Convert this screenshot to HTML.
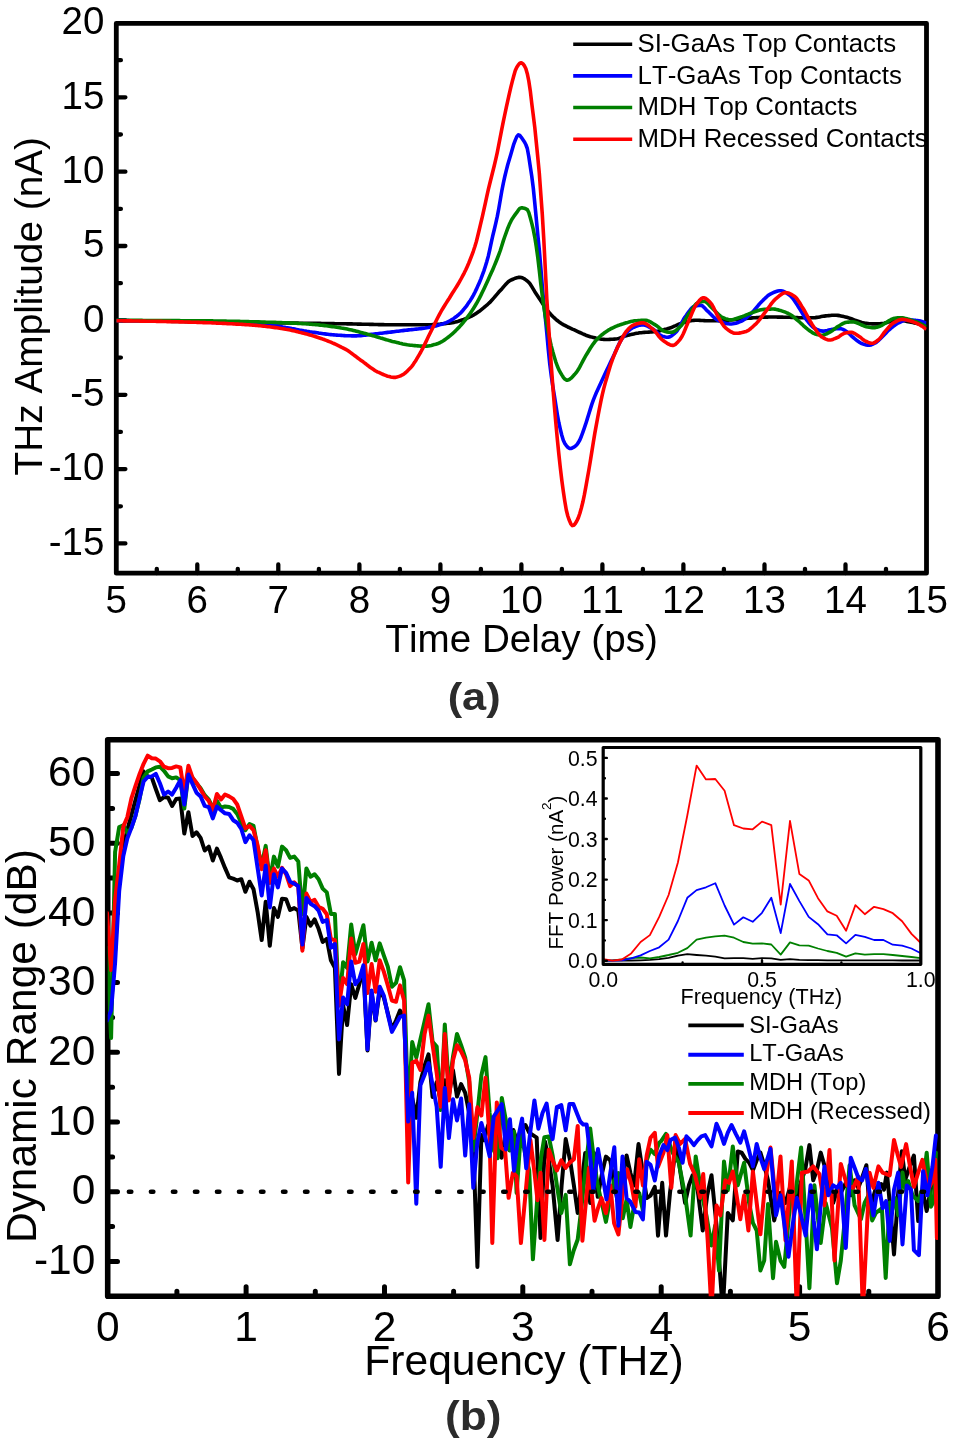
<!DOCTYPE html>
<html lang="en">
<head>
<meta charset="utf-8">
<title>THz amplitude and dynamic range</title>
<style>
html,body{margin:0;padding:0;background:#fff;}
body{width:956px;height:1444px;overflow:hidden;}
svg{display:block;font-family:'Liberation Sans', sans-serif;will-change:transform;}
text{fill:#000;font-kerning:none;}
</style>
</head>
<body>
<svg width="956" height="1444" viewBox="0 0 956 1444">
<rect width="956" height="1444" fill="#fff"/>
<g id="plot-a">
<clipPath id="clipA"><rect x="0" y="0" width="928.9" height="600"/></clipPath>
<g clip-path="url(#clipA)" font-size="25.85">
<path d="M573.2 44.3 H632.2" stroke="#000000" stroke-width="3.6" fill="none"/>
<text x="637.6" y="52.2">SI-GaAs Top Contacts</text>
<path d="M573.2 75.9 H632.2" stroke="#0000ff" stroke-width="3.6" fill="none"/>
<text x="637.6" y="83.8">LT-GaAs Top Contacts</text>
<path d="M573.2 107.5 H632.2" stroke="#008000" stroke-width="3.6" fill="none"/>
<text x="637.6" y="115.4">MDH Top Contacts</text>
<path d="M573.2 139.2 H632.2" stroke="#ff0000" stroke-width="3.6" fill="none"/>
<text x="637.6" y="147.1">MDH Recessed Contacts</text>
</g>
<g stroke="#000" fill="none" stroke-linecap="round" stroke-linejoin="round">
<rect x="116.3" y="23.3" width="810.2" height="549.9" stroke-width="4.8"/>
<path d="M116.3 543.4 h9.1 M116.3 506.3 h4.6 M116.3 469.1 h9.1 M116.3 431.9 h4.6 M116.3 394.8 h9.1 M116.3 357.6 h4.6 M116.3 320.4 h9.1 M116.3 283.2 h4.6 M116.3 246 h9.1 M116.3 208.9 h4.6 M116.3 171.7 h9.1 M116.3 134.5 h4.6 M116.3 97.3 h9.1 M116.3 60.2 h4.6 M156.8 573.2 v-4.4 M197.3 573.2 v-8.7 M237.8 573.2 v-4.4 M278.3 573.2 v-8.7 M318.9 573.2 v-4.4 M359.4 573.2 v-8.7 M399.9 573.2 v-4.4 M440.4 573.2 v-8.7 M480.9 573.2 v-4.4 M521.4 573.2 v-8.7 M561.9 573.2 v-4.4 M602.4 573.2 v-8.7 M642.9 573.2 v-4.4 M683.4 573.2 v-8.7 M723.9 573.2 v-4.4 M764.5 573.2 v-8.7 M805 573.2 v-4.4 M845.5 573.2 v-8.7 M886 573.2 v-4.4" stroke-width="4.3"/>
</g>
<clipPath id="clipA2"><rect x="116.3" y="23.3" width="810.2" height="549.9"/></clipPath>
<g fill="none" stroke-width="3.6" stroke-linejoin="round" stroke-linecap="butt" clip-path="url(#clipA2)">
<path d="M116.3 320.5 L117.8 320.5 L119.3 320.5 L120.8 320.6 L122.3 320.6 L123.8 320.6 L125.3 320.6 L126.8 320.7 L128.3 320.7 L129.8 320.7 L131.3 320.7 L132.8 320.8 L134.3 320.8 L135.8 320.8 L137.3 320.8 L138.8 320.8 L140.3 320.9 L141.8 320.9 L143.3 320.9 L144.8 320.9 L146.3 321 L147.8 321 L149.3 321 L150.8 321 L152.3 321.1 L153.8 321.1 L155.3 321.1 L156.8 321.1 L158.3 321.1 L159.8 321.2 L161.3 321.2 L162.8 321.2 L164.3 321.2 L165.8 321.3 L167.3 321.3 L168.8 321.3 L170.3 321.3 L171.8 321.4 L173.3 321.4 L174.8 321.4 L176.3 321.4 L177.8 321.4 L179.3 321.5 L180.8 321.5 L182.3 321.5 L183.8 321.5 L185.3 321.6 L186.8 321.6 L188.3 321.6 L189.8 321.6 L191.3 321.6 L192.8 321.7 L194.3 321.7 L195.8 321.7 L197.3 321.7 L198.8 321.8 L200.3 321.8 L201.8 321.8 L203.3 321.8 L204.8 321.8 L206.3 321.9 L207.8 321.9 L209.3 321.9 L210.8 321.9 L212.3 322 L213.8 322 L215.3 322 L216.8 322 L218.3 322 L219.8 322.1 L221.3 322.1 L222.8 322.1 L224.3 322.1 L225.8 322.2 L227.3 322.2 L228.8 322.2 L230.3 322.2 L231.8 322.2 L233.3 322.3 L234.8 322.3 L236.3 322.3 L237.8 322.3 L239.3 322.3 L240.8 322.4 L242.3 322.4 L243.8 322.4 L245.3 322.4 L246.8 322.5 L248.3 322.5 L249.8 322.5 L251.3 322.5 L252.8 322.5 L254.3 322.6 L255.8 322.6 L257.3 322.6 L258.8 322.6 L260.3 322.6 L261.8 322.7 L263.3 322.7 L264.8 322.7 L266.3 322.7 L267.8 322.7 L269.3 322.8 L270.8 322.8 L272.3 322.8 L273.8 322.8 L275.3 322.8 L276.8 322.9 L278.3 322.9 L279.8 322.9 L281.3 322.9 L282.8 322.9 L284.3 323 L285.8 323 L287.3 323 L288.8 323 L290.3 323 L291.8 323.1 L293.3 323.1 L294.8 323.1 L296.3 323.1 L297.8 323.1 L299.3 323.2 L300.8 323.2 L302.3 323.2 L303.8 323.2 L305.3 323.2 L306.8 323.3 L308.3 323.3 L309.8 323.3 L311.3 323.3 L312.8 323.3 L314.3 323.4 L315.8 323.4 L317.3 323.4 L318.8 323.4 L320.3 323.4 L321.8 323.5 L323.3 323.5 L324.8 323.5 L326.3 323.5 L327.8 323.6 L329.3 323.6 L330.8 323.6 L332.3 323.6 L333.8 323.6 L335.3 323.7 L336.8 323.7 L338.3 323.7 L339.8 323.7 L341.3 323.8 L342.8 323.8 L344.3 323.8 L345.8 323.8 L347.3 323.9 L348.8 323.9 L350.3 323.9 L351.8 323.9 L353.3 324 L354.8 324 L356.3 324 L357.8 324.1 L359.3 324.1 L360.8 324.1 L362.3 324.2 L363.8 324.2 L365.3 324.2 L366.8 324.3 L368.3 324.3 L369.8 324.4 L371.3 324.4 L372.8 324.4 L374.3 324.5 L375.8 324.5 L377.3 324.5 L378.8 324.6 L380.3 324.6 L381.8 324.6 L383.3 324.6 L384.8 324.7 L386.3 324.7 L387.8 324.7 L389.3 324.7 L390.8 324.7 L392.3 324.8 L393.8 324.8 L395.3 324.8 L396.8 324.8 L398.3 324.8 L399.8 324.8 L401.3 324.8 L402.8 324.8 L404.3 324.8 L405.8 324.8 L407.3 324.8 L408.8 324.8 L410.3 324.8 L411.8 324.8 L413.3 324.8 L414.8 324.8 L416.3 324.8 L417.8 324.8 L419.3 324.8 L420.8 324.8 L422.3 324.8 L423.8 324.8 L425.3 324.8 L426.8 324.8 L428.3 324.8 L429.8 324.7 L431.3 324.7 L432.8 324.6 L434.3 324.5 L435.8 324.4 L437.3 324.3 L438.8 324.2 L440.3 324.1 L441.8 323.9 L443.3 323.8 L444.8 323.6 L446.3 323.4 L447.8 323.3 L449.3 323.1 L450.8 322.9 L452.3 322.7 L453.8 322.4 L455.3 322.1 L456.8 321.7 L458.3 321.3 L459.8 320.8 L461.3 320.3 L462.8 319.8 L464.3 319.2 L465.8 318.6 L467.3 318 L468.8 317.4 L470.3 316.7 L471.8 316 L473.3 315.2 L474.8 314.3 L476.3 313.4 L477.8 312.3 L479.3 311.3 L480.8 310.1 L482.3 308.9 L483.8 307.7 L485.3 306.4 L486.8 305.2 L488.3 303.8 L489.8 302.4 L491.3 300.8 L492.8 299.1 L494.3 297.4 L495.8 295.6 L497.3 293.9 L498.8 292.1 L500.3 290.5 L501.8 288.9 L503.3 287.1 L504.8 285.4 L506.3 283.7 L507.8 282.2 L509.3 281 L510.8 280.2 L512.3 279.5 L513.8 278.8 L515.3 278.2 L516.8 277.8 L518.3 277.4 L519.8 277.3 L521.3 277.5 L522.8 278 L524.3 278.8 L525.8 279.9 L527.3 281 L528.8 282.3 L530.3 284.2 L531.8 286.6 L533.3 289.1 L534.8 291.7 L536.3 294 L537.8 296.2 L539.3 298.6 L540.8 300.8 L542.3 303.1 L543.8 305.2 L545.3 307.3 L546.8 309.5 L548.3 311.5 L549.8 313.3 L551.3 314.9 L552.8 316.5 L554.3 317.9 L555.8 319.3 L557.3 320.5 L558.8 321.7 L560.3 322.7 L561.8 323.7 L563.3 324.6 L564.8 325.4 L566.3 326.2 L567.8 327 L569.3 327.7 L570.8 328.4 L572.3 329.1 L573.8 329.7 L575.3 330.4 L576.8 331.1 L578.3 331.8 L579.8 332.5 L581.3 333.2 L582.8 333.9 L584.3 334.5 L585.8 335.2 L587.3 335.7 L588.8 336.2 L590.3 336.7 L591.8 337.1 L593.3 337.4 L594.8 337.8 L596.3 338.2 L597.8 338.5 L599.3 338.8 L600.8 339.1 L602.3 339.3 L603.8 339.4 L605.3 339.5 L606.8 339.5 L608.3 339.5 L609.8 339.4 L611.3 339.3 L612.8 339.2 L614.3 339.1 L615.8 339 L617.3 338.8 L618.8 338.4 L620.3 337.8 L621.8 337.2 L623.3 336.6 L624.8 336.1 L626.3 335.7 L627.8 335.3 L629.3 334.9 L630.8 334.6 L632.3 334.2 L633.8 333.9 L635.3 333.6 L636.8 333.3 L638.3 333.1 L639.8 332.8 L641.3 332.7 L642.8 332.5 L644.3 332.4 L645.8 332.3 L647.3 332.2 L648.8 332.1 L650.3 332 L651.8 331.9 L653.3 331.8 L654.8 331.6 L656.3 331.5 L657.8 331.2 L659.3 330.9 L660.8 330.6 L662.3 330.2 L663.8 329.8 L665.3 329.3 L666.8 328.9 L668.3 328.4 L669.8 328 L671.3 327.5 L672.8 326.9 L674.3 326.2 L675.8 325.6 L677.3 324.9 L678.8 324.2 L680.3 323.6 L681.8 323.1 L683.3 322.7 L684.8 322.3 L686.3 321.8 L687.8 321.4 L689.3 321.1 L690.8 320.8 L692.3 320.5 L693.8 320.4 L695.3 320.3 L696.8 320.3 L698.3 320.3 L699.8 320.4 L701.3 320.5 L702.8 320.5 L704.3 320.6 L705.8 320.7 L707.3 320.7 L708.8 320.8 L710.3 320.8 L711.8 320.8 L713.3 320.8 L714.8 320.7 L716.3 320.7 L717.8 320.6 L719.3 320.6 L720.8 320.5 L722.3 320.5 L723.8 320.4 L725.3 320.3 L726.8 320.2 L728.3 320.1 L729.8 320 L731.3 319.9 L732.8 319.7 L734.3 319.6 L735.8 319.5 L737.3 319.3 L738.8 319.2 L740.3 319 L741.8 318.9 L743.3 318.8 L744.8 318.6 L746.3 318.5 L747.8 318.3 L749.3 318.2 L750.8 318.1 L752.3 317.9 L753.8 317.8 L755.3 317.7 L756.8 317.6 L758.3 317.5 L759.8 317.4 L761.3 317.3 L762.8 317.3 L764.3 317.2 L765.8 317.1 L767.3 317.1 L768.8 317 L770.3 317 L771.8 317 L773.3 317 L774.8 317 L776.3 317 L777.8 317.1 L779.3 317.1 L780.8 317.1 L782.3 317.1 L783.8 317.2 L785.3 317.2 L786.8 317.2 L788.3 317.3 L789.8 317.3 L791.3 317.4 L792.8 317.5 L794.3 317.5 L795.8 317.6 L797.3 317.6 L798.8 317.7 L800.3 317.7 L801.8 317.7 L803.3 317.7 L804.8 317.7 L806.3 317.7 L807.8 317.7 L809.3 317.7 L810.8 317.7 L812.3 317.7 L813.8 317.7 L815.3 317.6 L816.8 317.4 L818.3 317.2 L819.8 316.9 L821.3 316.6 L822.8 316.3 L824.3 316.1 L825.8 315.9 L827.3 315.8 L828.8 315.6 L830.3 315.5 L831.8 315.3 L833.3 315.2 L834.8 315.2 L836.3 315.2 L837.8 315.4 L839.3 315.6 L840.8 315.9 L842.3 316.2 L843.8 316.6 L845.3 316.9 L846.8 317.3 L848.3 317.7 L849.8 318.3 L851.3 318.8 L852.8 319.3 L854.3 319.9 L855.8 320.4 L857.3 320.9 L858.8 321.4 L860.3 321.9 L861.8 322.4 L863.3 322.8 L864.8 323.1 L866.3 323.3 L867.8 323.5 L869.3 323.7 L870.8 323.8 L872.3 323.9 L873.8 323.9 L875.3 323.9 L876.8 323.9 L878.3 323.8 L879.8 323.7 L881.3 323.6 L882.8 323.5 L884.3 323.3 L885.8 322.8 L887.3 322.4 L888.8 321.9 L890.3 321.5 L891.8 321.2 L893.3 320.9 L894.8 320.6 L896.3 320.4 L897.8 320.2 L899.3 320.2 L900.8 320.3 L902.3 320.5 L903.8 320.8 L905.3 321.1 L906.8 321.4 L908.3 321.7 L909.8 322 L911.3 322.3 L912.8 322.6 L914.3 322.9 L915.8 323.2 L917.3 323.5 L918.8 323.9 L920.3 324.2 L921.8 324.5 L923.3 324.8 L924.8 325.1 L926.3 325.4 L926.4 325.4" stroke="#000000"/>
<path d="M116.3 320.6 L117.8 320.6 L119.3 320.6 L120.8 320.6 L122.3 320.6 L123.8 320.6 L125.3 320.6 L126.8 320.6 L128.3 320.6 L129.8 320.7 L131.3 320.7 L132.8 320.7 L134.3 320.7 L135.8 320.7 L137.3 320.7 L138.8 320.7 L140.3 320.7 L141.8 320.7 L143.3 320.8 L144.8 320.8 L146.3 320.8 L147.8 320.8 L149.3 320.8 L150.8 320.8 L152.3 320.8 L153.8 320.9 L155.3 320.9 L156.8 320.9 L158.3 320.9 L159.8 320.9 L161.3 321 L162.8 321 L164.3 321 L165.8 321 L167.3 321 L168.8 321 L170.3 321.1 L171.8 321.1 L173.3 321.1 L174.8 321.1 L176.3 321.1 L177.8 321.2 L179.3 321.2 L180.8 321.2 L182.3 321.2 L183.8 321.3 L185.3 321.3 L186.8 321.3 L188.3 321.3 L189.8 321.3 L191.3 321.4 L192.8 321.4 L194.3 321.4 L195.8 321.4 L197.3 321.5 L198.8 321.5 L200.3 321.5 L201.8 321.6 L203.3 321.6 L204.8 321.6 L206.3 321.6 L207.8 321.7 L209.3 321.7 L210.8 321.7 L212.3 321.8 L213.8 321.8 L215.3 321.8 L216.8 321.9 L218.3 321.9 L219.8 322 L221.3 322 L222.8 322 L224.3 322.1 L225.8 322.1 L227.3 322.2 L228.8 322.2 L230.3 322.3 L231.8 322.3 L233.3 322.4 L234.8 322.4 L236.3 322.5 L237.8 322.6 L239.3 322.6 L240.8 322.7 L242.3 322.7 L243.8 322.8 L245.3 322.9 L246.8 322.9 L248.3 323 L249.8 323.1 L251.3 323.3 L252.8 323.4 L254.3 323.5 L255.8 323.6 L257.3 323.8 L258.8 323.9 L260.3 324.1 L261.8 324.3 L263.3 324.4 L264.8 324.6 L266.3 324.8 L267.8 325 L269.3 325.2 L270.8 325.4 L272.3 325.5 L273.8 325.7 L275.3 325.9 L276.8 326.1 L278.3 326.3 L279.8 326.5 L281.3 326.7 L282.8 327 L284.3 327.2 L285.8 327.5 L287.3 327.7 L288.8 328 L290.3 328.3 L291.8 328.6 L293.3 328.8 L294.8 329.1 L296.3 329.4 L297.8 329.7 L299.3 330 L300.8 330.2 L302.3 330.5 L303.8 330.8 L305.3 331 L306.8 331.3 L308.3 331.5 L309.8 331.8 L311.3 332 L312.8 332.2 L314.3 332.4 L315.8 332.6 L317.3 332.8 L318.8 333.1 L320.3 333.3 L321.8 333.5 L323.3 333.7 L324.8 333.9 L326.3 334.1 L327.8 334.3 L329.3 334.5 L330.8 334.6 L332.3 334.8 L333.8 334.9 L335.3 335 L336.8 335.1 L338.3 335.2 L339.8 335.3 L341.3 335.4 L342.8 335.5 L344.3 335.6 L345.8 335.7 L347.3 335.7 L348.8 335.8 L350.3 335.8 L351.8 335.9 L353.3 335.9 L354.8 335.9 L356.3 335.9 L357.8 335.8 L359.3 335.7 L360.8 335.6 L362.3 335.5 L363.8 335.3 L365.3 335.2 L366.8 335 L368.3 334.8 L369.8 334.6 L371.3 334.4 L372.8 334.2 L374.3 334 L375.8 333.8 L377.3 333.7 L378.8 333.5 L380.3 333.3 L381.8 333.2 L383.3 333 L384.8 332.8 L386.3 332.6 L387.8 332.4 L389.3 332.3 L390.8 332.1 L392.3 331.9 L393.8 331.7 L395.3 331.5 L396.8 331.3 L398.3 331.2 L399.8 331 L401.3 330.8 L402.8 330.6 L404.3 330.4 L405.8 330.3 L407.3 330.1 L408.8 329.9 L410.3 329.8 L411.8 329.6 L413.3 329.5 L414.8 329.3 L416.3 329.1 L417.8 329 L419.3 328.8 L420.8 328.6 L422.3 328.4 L423.8 328.2 L425.3 328 L426.8 327.7 L428.3 327.5 L429.8 327.2 L431.3 326.9 L432.8 326.6 L434.3 326.2 L435.8 325.9 L437.3 325.5 L438.8 325.1 L440.3 324.6 L441.8 324.2 L443.3 323.7 L444.8 323.1 L446.3 322.6 L447.8 321.9 L449.3 321.2 L450.8 320.3 L452.3 319.4 L453.8 318.4 L455.3 317.3 L456.8 316.2 L458.3 315 L459.8 313.7 L461.3 312.2 L462.8 310.5 L464.3 308.7 L465.8 306.8 L467.3 304.8 L468.8 302.6 L470.3 300.4 L471.8 298 L473.3 295.4 L474.8 292.5 L476.3 289.4 L477.8 286.1 L479.3 282.7 L480.8 279.1 L482.3 275.2 L483.8 271.1 L485.3 266.5 L486.8 261.6 L488.3 256.2 L489.8 249.5 L491.3 242.3 L492.8 235.7 L494.3 229.5 L495.8 223.2 L497.3 216.4 L498.8 208.5 L500.3 199.7 L501.8 191 L503.3 183.3 L504.8 176.5 L506.3 170.3 L507.8 164.5 L509.3 159.4 L510.8 154.5 L512.3 149.3 L513.8 144.1 L515.3 140.1 L516.8 136.6 L518.3 134.8 L519.8 135.5 L521.3 137.3 L522.8 139.5 L524.3 141.7 L525.8 144.5 L527.3 148.5 L528.8 156.7 L530.3 166.7 L531.8 176.5 L533.3 188.2 L534.8 203.3 L536.3 219 L537.8 234.8 L539.3 249.9 L540.8 267.3 L542.3 286.1 L543.8 302.8 L545.3 317.5 L546.8 333 L548.3 349.7 L549.8 364.2 L551.3 376 L552.8 386.3 L554.3 395.4 L555.8 404.8 L557.3 414.2 L558.8 422.5 L560.3 429.2 L561.8 435.3 L563.3 440.3 L564.8 443.4 L566.3 445.6 L567.8 447.3 L569.3 448.4 L570.8 448.5 L572.3 448 L573.8 447.2 L575.3 446.1 L576.8 444.7 L578.3 442.6 L579.8 440 L581.3 436.5 L582.8 432.3 L584.3 428.1 L585.8 423.7 L587.3 418.9 L588.8 414 L590.3 409.1 L591.8 404.4 L593.3 400.2 L594.8 396.4 L596.3 392.8 L597.8 389.5 L599.3 386.2 L600.8 383 L602.3 379.8 L603.8 376.6 L605.3 373.3 L606.8 370.1 L608.3 366.9 L609.8 363.7 L611.3 360.6 L612.8 357.5 L614.3 354.3 L615.8 350.9 L617.3 347.6 L618.8 344.4 L620.3 341.5 L621.8 338.9 L623.3 336.9 L624.8 334.9 L626.3 333.1 L627.8 331.5 L629.3 330.1 L630.8 328.9 L632.3 327.9 L633.8 327.3 L635.3 326.6 L636.8 326 L638.3 325.5 L639.8 325.1 L641.3 324.9 L642.8 324.8 L644.3 325 L645.8 325.4 L647.3 326 L648.8 326.8 L650.3 327.6 L651.8 328.5 L653.3 329.4 L654.8 330.5 L656.3 331.9 L657.8 333.3 L659.3 334.5 L660.8 335.5 L662.3 336.1 L663.8 336.6 L665.3 337 L666.8 337.2 L668.3 337.3 L669.8 336.8 L671.3 336 L672.8 334.9 L674.3 333.7 L675.8 332.3 L677.3 330.5 L678.8 328.1 L680.3 325.4 L681.8 322.5 L683.3 319.8 L684.8 317.3 L686.3 315.3 L687.8 313.1 L689.3 311 L690.8 309.1 L692.3 307.6 L693.8 306.6 L695.3 306.1 L696.8 305.7 L698.3 305.4 L699.8 305.2 L701.3 305.4 L702.8 306.2 L704.3 307.6 L705.8 309.3 L707.3 310.9 L708.8 312.2 L710.3 313.7 L711.8 315.2 L713.3 316.7 L714.8 318.1 L716.3 319.3 L717.8 320.2 L719.3 320.9 L720.8 321.5 L722.3 322.1 L723.8 322.7 L725.3 323.2 L726.8 323.6 L728.3 323.8 L729.8 324 L731.3 324 L732.8 323.8 L734.3 323.5 L735.8 323.2 L737.3 322.7 L738.8 322.2 L740.3 321.6 L741.8 321 L743.3 320.1 L744.8 319 L746.3 317.8 L747.8 316.5 L749.3 315.2 L750.8 313.8 L752.3 312.3 L753.8 310.7 L755.3 308.9 L756.8 307.1 L758.3 305.3 L759.8 303.6 L761.3 302.1 L762.8 300.6 L764.3 299 L765.8 297.6 L767.3 296.2 L768.8 295 L770.3 294.1 L771.8 293.4 L773.3 292.7 L774.8 292 L776.3 291.5 L777.8 291 L779.3 290.8 L780.8 290.7 L782.3 291 L783.8 291.5 L785.3 292.3 L786.8 293.2 L788.3 294.3 L789.8 295.4 L791.3 296.7 L792.8 298.4 L794.3 300.5 L795.8 302.8 L797.3 305.1 L798.8 307.4 L800.3 309.8 L801.8 312.4 L803.3 314.9 L804.8 317.4 L806.3 319.6 L807.8 321.4 L809.3 323.3 L810.8 325 L812.3 326.6 L813.8 327.8 L815.3 328.7 L816.8 329.4 L818.3 330 L819.8 330.5 L821.3 330.9 L822.8 331.1 L824.3 331.1 L825.8 330.8 L827.3 330.5 L828.8 330.1 L830.3 329.7 L831.8 329.4 L833.3 329.2 L834.8 329 L836.3 328.8 L837.8 328.7 L839.3 328.6 L840.8 328.6 L842.3 329.1 L843.8 329.8 L845.3 330.8 L846.8 331.8 L848.3 332.9 L849.8 334.3 L851.3 335.8 L852.8 337.1 L854.3 338.4 L855.8 339.6 L857.3 340.8 L858.8 341.9 L860.3 342.8 L861.8 343.5 L863.3 344.1 L864.8 344.6 L866.3 345 L867.8 345.3 L869.3 345.3 L870.8 345 L872.3 344.4 L873.8 343.6 L875.3 342.9 L876.8 341.9 L878.3 340.6 L879.8 339.2 L881.3 337.7 L882.8 336.2 L884.3 334.7 L885.8 333.2 L887.3 331.6 L888.8 330.1 L890.3 328.8 L891.8 327.5 L893.3 326.3 L894.8 325.2 L896.3 324.1 L897.8 323.2 L899.3 322.5 L900.8 321.8 L902.3 321.1 L903.8 320.5 L905.3 320.1 L906.8 319.9 L908.3 319.9 L909.8 320 L911.3 320 L912.8 320.1 L914.3 320.2 L915.8 320.4 L917.3 320.5 L918.8 320.7 L920.3 321.1 L921.8 321.5 L923.3 322 L924.8 322.6 L926.3 323.2 L926.4 323.2" stroke="#0000ff"/>
<path d="M116.3 320.4 L117.8 320.4 L119.3 320.4 L120.8 320.4 L122.3 320.4 L123.8 320.4 L125.3 320.4 L126.8 320.4 L128.3 320.4 L129.8 320.4 L131.3 320.4 L132.8 320.4 L134.3 320.4 L135.8 320.4 L137.3 320.4 L138.8 320.4 L140.3 320.4 L141.8 320.4 L143.3 320.5 L144.8 320.5 L146.3 320.5 L147.8 320.5 L149.3 320.5 L150.8 320.5 L152.3 320.5 L153.8 320.5 L155.3 320.5 L156.8 320.5 L158.3 320.5 L159.8 320.5 L161.3 320.5 L162.8 320.5 L164.3 320.6 L165.8 320.6 L167.3 320.6 L168.8 320.6 L170.3 320.6 L171.8 320.6 L173.3 320.6 L174.8 320.6 L176.3 320.6 L177.8 320.6 L179.3 320.6 L180.8 320.7 L182.3 320.7 L183.8 320.7 L185.3 320.7 L186.8 320.7 L188.3 320.7 L189.8 320.7 L191.3 320.7 L192.8 320.7 L194.3 320.8 L195.8 320.8 L197.3 320.8 L198.8 320.8 L200.3 320.8 L201.8 320.8 L203.3 320.8 L204.8 320.8 L206.3 320.9 L207.8 320.9 L209.3 320.9 L210.8 320.9 L212.3 320.9 L213.8 321 L215.3 321 L216.8 321 L218.3 321 L219.8 321 L221.3 321.1 L222.8 321.1 L224.3 321.1 L225.8 321.1 L227.3 321.2 L228.8 321.2 L230.3 321.2 L231.8 321.3 L233.3 321.3 L234.8 321.3 L236.3 321.4 L237.8 321.4 L239.3 321.4 L240.8 321.5 L242.3 321.5 L243.8 321.5 L245.3 321.6 L246.8 321.6 L248.3 321.6 L249.8 321.7 L251.3 321.7 L252.8 321.8 L254.3 321.8 L255.8 321.8 L257.3 321.9 L258.8 321.9 L260.3 322 L261.8 322 L263.3 322.1 L264.8 322.1 L266.3 322.2 L267.8 322.2 L269.3 322.2 L270.8 322.3 L272.3 322.3 L273.8 322.4 L275.3 322.4 L276.8 322.5 L278.3 322.5 L279.8 322.6 L281.3 322.6 L282.8 322.7 L284.3 322.7 L285.8 322.8 L287.3 322.9 L288.8 322.9 L290.3 323 L291.8 323.1 L293.3 323.1 L294.8 323.2 L296.3 323.3 L297.8 323.4 L299.3 323.5 L300.8 323.5 L302.3 323.6 L303.8 323.7 L305.3 323.8 L306.8 323.9 L308.3 324 L309.8 324.1 L311.3 324.2 L312.8 324.4 L314.3 324.5 L315.8 324.6 L317.3 324.8 L318.8 324.9 L320.3 325.1 L321.8 325.2 L323.3 325.4 L324.8 325.6 L326.3 325.8 L327.8 326 L329.3 326.2 L330.8 326.4 L332.3 326.6 L333.8 326.8 L335.3 327 L336.8 327.3 L338.3 327.5 L339.8 327.7 L341.3 328 L342.8 328.2 L344.3 328.5 L345.8 328.8 L347.3 329.1 L348.8 329.4 L350.3 329.7 L351.8 330 L353.3 330.4 L354.8 330.8 L356.3 331.2 L357.8 331.6 L359.3 332 L360.8 332.4 L362.3 332.8 L363.8 333.2 L365.3 333.6 L366.8 334 L368.3 334.4 L369.8 334.8 L371.3 335.3 L372.8 335.7 L374.3 336.1 L375.8 336.5 L377.3 337 L378.8 337.4 L380.3 337.9 L381.8 338.3 L383.3 338.8 L384.8 339.2 L386.3 339.7 L387.8 340.1 L389.3 340.6 L390.8 341 L392.3 341.4 L393.8 341.7 L395.3 342.1 L396.8 342.4 L398.3 342.8 L399.8 343.2 L401.3 343.5 L402.8 343.9 L404.3 344.2 L405.8 344.5 L407.3 344.8 L408.8 345 L410.3 345.2 L411.8 345.3 L413.3 345.5 L414.8 345.6 L416.3 345.8 L417.8 345.9 L419.3 346 L420.8 346.1 L422.3 346.1 L423.8 346.2 L425.3 346.2 L426.8 346.1 L428.3 346 L429.8 345.7 L431.3 345.4 L432.8 345 L434.3 344.6 L435.8 344.2 L437.3 343.7 L438.8 343.2 L440.3 342.5 L441.8 341.7 L443.3 340.8 L444.8 339.7 L446.3 338.6 L447.8 337.5 L449.3 336.3 L450.8 335.1 L452.3 333.9 L453.8 332.5 L455.3 331.1 L456.8 329.6 L458.3 328 L459.8 326.4 L461.3 324.7 L462.8 323 L464.3 321.2 L465.8 319.3 L467.3 317.4 L468.8 315.3 L470.3 313.2 L471.8 311 L473.3 308.7 L474.8 306.3 L476.3 303.8 L477.8 301.1 L479.3 298.3 L480.8 295.4 L482.3 292.3 L483.8 289.2 L485.3 286 L486.8 282.7 L488.3 279.4 L489.8 276.1 L491.3 272.8 L492.8 269.4 L494.3 265.9 L495.8 262.3 L497.3 258.5 L498.8 254.6 L500.3 250.5 L501.8 245.8 L503.3 240.9 L504.8 236.5 L506.3 232.3 L507.8 228.2 L509.3 224.6 L510.8 221.4 L512.3 218.7 L513.8 216.5 L515.3 214.4 L516.8 212.4 L518.3 210.2 L519.8 208.4 L521.3 207.8 L522.8 207.9 L524.3 208.3 L525.8 208.8 L527.3 209.6 L528.8 212.5 L530.3 217.8 L531.8 223.4 L533.3 229.7 L534.8 237.3 L536.3 246.7 L537.8 257.5 L539.3 270.3 L540.8 283.9 L542.3 295.9 L543.8 306.5 L545.3 316.3 L546.8 325 L548.3 332.6 L549.8 339.7 L551.3 346.1 L552.8 351.8 L554.3 356.9 L555.8 361.8 L557.3 366 L558.8 369.6 L560.3 372.3 L561.8 374.9 L563.3 377.3 L564.8 379.1 L566.3 380.1 L567.8 380.1 L569.3 379.5 L570.8 378.4 L572.3 376.9 L573.8 375.3 L575.3 373.6 L576.8 371.8 L578.3 369.6 L579.8 366.9 L581.3 364 L582.8 361.1 L584.3 358.3 L585.8 355.7 L587.3 353.2 L588.8 350.8 L590.3 348.3 L591.8 346 L593.3 343.8 L594.8 341.8 L596.3 340.1 L597.8 338.5 L599.3 337.1 L600.8 335.7 L602.3 334.5 L603.8 333.3 L605.3 332.2 L606.8 331.2 L608.3 330.2 L609.8 329.4 L611.3 328.5 L612.8 327.8 L614.3 327.1 L615.8 326.4 L617.3 325.8 L618.8 325.3 L620.3 324.7 L621.8 324.2 L623.3 323.8 L624.8 323.3 L626.3 322.8 L627.8 322.4 L629.3 321.9 L630.8 321.5 L632.3 321.2 L633.8 320.9 L635.3 320.8 L636.8 320.7 L638.3 320.6 L639.8 320.5 L641.3 320.4 L642.8 320.3 L644.3 320.3 L645.8 320.3 L647.3 320.6 L648.8 321.2 L650.3 321.9 L651.8 322.8 L653.3 323.7 L654.8 324.6 L656.3 325.5 L657.8 326.6 L659.3 327.9 L660.8 329.1 L662.3 330.2 L663.8 331.1 L665.3 331.6 L666.8 331.9 L668.3 332.1 L669.8 332.2 L671.3 332.3 L672.8 332.1 L674.3 331.5 L675.8 330.5 L677.3 329.3 L678.8 327.9 L680.3 326.5 L681.8 324.9 L683.3 322.8 L684.8 320.4 L686.3 317.9 L687.8 315.4 L689.3 313 L690.8 311 L692.3 308.8 L693.8 306.7 L695.3 304.8 L696.8 303.3 L698.3 302.6 L699.8 302.1 L701.3 301.7 L702.8 301.5 L704.3 301.4 L705.8 301.9 L707.3 303 L708.8 304.5 L710.3 306.2 L711.8 307.8 L713.3 309.3 L714.8 310.7 L716.3 312.2 L717.8 313.7 L719.3 315.2 L720.8 316.4 L722.3 317.4 L723.8 318 L725.3 318.6 L726.8 319.1 L728.3 319.5 L729.8 319.8 L731.3 319.8 L732.8 319.6 L734.3 319.3 L735.8 318.8 L737.3 318.3 L738.8 317.8 L740.3 317.3 L741.8 316.8 L743.3 316.2 L744.8 315.6 L746.3 314.9 L747.8 314.3 L749.3 313.7 L750.8 313.1 L752.3 312.6 L753.8 312 L755.3 311.5 L756.8 311 L758.3 310.5 L759.8 310.1 L761.3 309.8 L762.8 309.5 L764.3 309.4 L765.8 309.3 L767.3 309.2 L768.8 309.1 L770.3 309.1 L771.8 309 L773.3 309 L774.8 309.1 L776.3 309.4 L777.8 309.7 L779.3 310.2 L780.8 310.6 L782.3 311.1 L783.8 311.6 L785.3 312.2 L786.8 312.8 L788.3 313.5 L789.8 314.3 L791.3 315.2 L792.8 316.3 L794.3 317.5 L795.8 318.8 L797.3 320.1 L798.8 321.3 L800.3 322.7 L801.8 324.1 L803.3 325.6 L804.8 326.9 L806.3 328.2 L807.8 329.4 L809.3 330.5 L810.8 331.6 L812.3 332.6 L813.8 333.4 L815.3 334 L816.8 334.4 L818.3 334.8 L819.8 335.1 L821.3 335.3 L822.8 335.2 L824.3 334.8 L825.8 334.2 L827.3 333.5 L828.8 332.6 L830.3 331.8 L831.8 331 L833.3 329.9 L834.8 328.7 L836.3 327.6 L837.8 326.6 L839.3 325.7 L840.8 324.8 L842.3 323.9 L843.8 323.1 L845.3 322.5 L846.8 322.2 L848.3 322.1 L849.8 322 L851.3 321.9 L852.8 321.9 L854.3 322 L855.8 322.4 L857.3 323 L858.8 323.7 L860.3 324.4 L861.8 325 L863.3 325.7 L864.8 326.3 L866.3 326.7 L867.8 327 L869.3 327.3 L870.8 327.5 L872.3 327.7 L873.8 327.7 L875.3 327.6 L876.8 327.3 L878.3 326.8 L879.8 326.3 L881.3 325.7 L882.8 324.8 L884.3 323.8 L885.8 322.7 L887.3 321.8 L888.8 320.9 L890.3 320 L891.8 319.2 L893.3 318.6 L894.8 318.3 L896.3 318.1 L897.8 317.9 L899.3 317.7 L900.8 317.7 L902.3 317.8 L903.8 318.1 L905.3 318.4 L906.8 318.8 L908.3 319.2 L909.8 319.6 L911.3 320.1 L912.8 320.6 L914.3 321.1 L915.8 321.6 L917.3 322.2 L918.8 322.9 L920.3 323.6 L921.8 324.3 L923.3 325.1 L924.8 326 L926.3 326.8 L926.4 326.9" stroke="#008000"/>
<path d="M116.3 320.8 L117.8 320.8 L119.3 320.8 L120.8 320.8 L122.3 320.8 L123.8 320.9 L125.3 320.9 L126.8 320.9 L128.3 320.9 L129.8 320.9 L131.3 320.9 L132.8 321 L134.3 321 L135.8 321 L137.3 321 L138.8 321 L140.3 321.1 L141.8 321.1 L143.3 321.1 L144.8 321.1 L146.3 321.2 L147.8 321.2 L149.3 321.2 L150.8 321.2 L152.3 321.3 L153.8 321.3 L155.3 321.3 L156.8 321.4 L158.3 321.4 L159.8 321.4 L161.3 321.4 L162.8 321.5 L164.3 321.5 L165.8 321.5 L167.3 321.6 L168.8 321.6 L170.3 321.6 L171.8 321.7 L173.3 321.7 L174.8 321.7 L176.3 321.8 L177.8 321.8 L179.3 321.9 L180.8 321.9 L182.3 321.9 L183.8 322 L185.3 322 L186.8 322 L188.3 322.1 L189.8 322.1 L191.3 322.2 L192.8 322.2 L194.3 322.3 L195.8 322.3 L197.3 322.4 L198.8 322.4 L200.3 322.5 L201.8 322.5 L203.3 322.6 L204.8 322.6 L206.3 322.7 L207.8 322.7 L209.3 322.8 L210.8 322.8 L212.3 322.9 L213.8 323 L215.3 323 L216.8 323.1 L218.3 323.2 L219.8 323.2 L221.3 323.3 L222.8 323.4 L224.3 323.4 L225.8 323.5 L227.3 323.6 L228.8 323.7 L230.3 323.7 L231.8 323.8 L233.3 323.9 L234.8 324 L236.3 324.1 L237.8 324.1 L239.3 324.2 L240.8 324.3 L242.3 324.4 L243.8 324.5 L245.3 324.6 L246.8 324.7 L248.3 324.8 L249.8 324.9 L251.3 325 L252.8 325.1 L254.3 325.3 L255.8 325.4 L257.3 325.5 L258.8 325.7 L260.3 325.8 L261.8 326 L263.3 326.1 L264.8 326.3 L266.3 326.5 L267.8 326.7 L269.3 326.8 L270.8 327 L272.3 327.2 L273.8 327.4 L275.3 327.6 L276.8 327.8 L278.3 328 L279.8 328.2 L281.3 328.5 L282.8 328.7 L284.3 329 L285.8 329.3 L287.3 329.5 L288.8 329.8 L290.3 330.1 L291.8 330.4 L293.3 330.8 L294.8 331.1 L296.3 331.4 L297.8 331.8 L299.3 332.2 L300.8 332.5 L302.3 332.9 L303.8 333.3 L305.3 333.7 L306.8 334.1 L308.3 334.5 L309.8 334.9 L311.3 335.3 L312.8 335.8 L314.3 336.2 L315.8 336.7 L317.3 337.2 L318.8 337.7 L320.3 338.2 L321.8 338.7 L323.3 339.3 L324.8 339.8 L326.3 340.4 L327.8 341 L329.3 341.6 L330.8 342.2 L332.3 342.9 L333.8 343.5 L335.3 344.2 L336.8 344.9 L338.3 345.6 L339.8 346.3 L341.3 347.1 L342.8 347.8 L344.3 348.6 L345.8 349.4 L347.3 350.3 L348.8 351.3 L350.3 352.4 L351.8 353.5 L353.3 354.6 L354.8 355.7 L356.3 356.8 L357.8 358 L359.3 359.1 L360.8 360.2 L362.3 361.2 L363.8 362.4 L365.3 363.5 L366.8 364.7 L368.3 365.8 L369.8 367 L371.3 368.1 L372.8 369.1 L374.3 370.1 L375.8 371 L377.3 371.8 L378.8 372.4 L380.3 373.1 L381.8 373.8 L383.3 374.5 L384.8 375.1 L386.3 375.7 L387.8 376.2 L389.3 376.6 L390.8 377 L392.3 377.3 L393.8 377.4 L395.3 377.4 L396.8 377.1 L398.3 376.6 L399.8 376.1 L401.3 375.5 L402.8 374.7 L404.3 373.7 L405.8 372.5 L407.3 371.1 L408.8 369.6 L410.3 368.1 L411.8 366.3 L413.3 364.3 L414.8 362.1 L416.3 359.7 L417.8 357.1 L419.3 354.6 L420.8 352 L422.3 349.2 L423.8 346.2 L425.3 343.1 L426.8 339.9 L428.3 336.8 L429.8 333.7 L431.3 330.7 L432.8 327.6 L434.3 324.5 L435.8 321.5 L437.3 318.5 L438.8 315.6 L440.3 312.8 L441.8 310.2 L443.3 307.7 L444.8 305.3 L446.3 302.9 L447.8 300.5 L449.3 298.2 L450.8 295.7 L452.3 293.3 L453.8 291 L455.3 288.6 L456.8 286.2 L458.3 283.8 L459.8 281.2 L461.3 278.5 L462.8 275.7 L464.3 272.8 L465.8 269.7 L467.3 266.4 L468.8 263 L470.3 259.3 L471.8 255.4 L473.3 251.3 L474.8 246.7 L476.3 241.7 L477.8 235.8 L479.3 229.5 L480.8 223.2 L482.3 216.8 L483.8 210.2 L485.3 203.3 L486.8 196.3 L488.3 189.7 L489.8 183.5 L491.3 177.5 L492.8 171.5 L494.3 165.5 L495.8 159.2 L497.3 152.3 L498.8 144.7 L500.3 136.8 L501.8 129.1 L503.3 121.7 L504.8 114.5 L506.3 107.4 L507.8 100.6 L509.3 93.9 L510.8 87.4 L512.3 81.4 L513.8 75.8 L515.3 70.6 L516.8 67.2 L518.3 64.9 L519.8 63.2 L521.3 62.7 L522.8 63.7 L524.3 65.7 L525.8 68.5 L527.3 73.7 L528.8 81 L530.3 90.9 L531.8 103.8 L533.3 115.4 L534.8 127.6 L536.3 142.5 L537.8 157.5 L539.3 173.1 L540.8 194 L542.3 214.5 L543.8 239.6 L545.3 269 L546.8 298.7 L548.3 321.1 L549.8 343.8 L551.3 365.7 L552.8 386.2 L554.3 405 L555.8 422.6 L557.3 438.9 L558.8 453.7 L560.3 467.6 L561.8 480.3 L563.3 491.3 L564.8 501.2 L566.3 510 L567.8 516 L569.3 520.3 L570.8 523.8 L572.3 525.6 L573.8 525.2 L575.3 523.5 L576.8 521 L578.3 517.9 L579.8 513.5 L581.3 508.2 L582.8 502.3 L584.3 495.2 L585.8 487.1 L587.3 478.6 L588.8 470.2 L590.3 461.2 L591.8 451.9 L593.3 442.5 L594.8 433.4 L596.3 425.1 L597.8 417 L599.3 409.2 L600.8 401.7 L602.3 394.7 L603.8 388.4 L605.3 382.9 L606.8 377.7 L608.3 372.5 L609.8 367.4 L611.3 362.8 L612.8 358.7 L614.3 354.9 L615.8 351.3 L617.3 347.9 L618.8 344.8 L620.3 341.8 L621.8 338.9 L623.3 336 L624.8 333.5 L626.3 331.4 L627.8 329.7 L629.3 328.1 L630.8 326.7 L632.3 325.6 L633.8 324.9 L635.3 324.3 L636.8 323.8 L638.3 323.4 L639.8 323.1 L641.3 322.9 L642.8 322.8 L644.3 323.1 L645.8 323.7 L647.3 324.6 L648.8 325.7 L650.3 327 L651.8 328.3 L653.3 329.5 L654.8 331.1 L656.3 332.9 L657.8 334.8 L659.3 336.8 L660.8 338.5 L662.3 339.9 L663.8 341 L665.3 342.1 L666.8 343.1 L668.3 344 L669.8 344.7 L671.3 345.2 L672.8 345.4 L674.3 345 L675.8 344.1 L677.3 342.6 L678.8 340.9 L680.3 339.1 L681.8 336.8 L683.3 333.7 L684.8 330.2 L686.3 326.5 L687.8 323 L689.3 319.6 L690.8 316 L692.3 312.4 L693.8 309 L695.3 306 L696.8 303.8 L698.3 301.8 L699.8 300 L701.3 298.6 L702.8 297.8 L704.3 297.8 L705.8 298.5 L707.3 299.6 L708.8 301 L710.3 302.5 L711.8 304.4 L713.3 307.1 L714.8 310.2 L716.3 313.3 L717.8 316.2 L719.3 318.7 L720.8 321.3 L722.3 323.8 L723.8 326 L725.3 327.6 L726.8 328.9 L728.3 330 L729.8 331.1 L731.3 332 L732.8 332.7 L734.3 333.2 L735.8 333.3 L737.3 333.2 L738.8 333.1 L740.3 332.9 L741.8 332.6 L743.3 332.2 L744.8 331.8 L746.3 331.4 L747.8 330.7 L749.3 329.7 L750.8 328.5 L752.3 327.2 L753.8 325.8 L755.3 324.4 L756.8 322.9 L758.3 321.2 L759.8 319.3 L761.3 317.3 L762.8 315.3 L764.3 313.3 L765.8 311.4 L767.3 309.4 L768.8 307.3 L770.3 305.2 L771.8 303.2 L773.3 301.3 L774.8 299.7 L776.3 298.4 L777.8 297.1 L779.3 295.8 L780.8 294.7 L782.3 293.7 L783.8 293 L785.3 292.6 L786.8 292.7 L788.3 293 L789.8 293.6 L791.3 294.3 L792.8 295.2 L794.3 296.2 L795.8 297.4 L797.3 299.2 L798.8 301.4 L800.3 303.8 L801.8 306.4 L803.3 308.8 L804.8 311.3 L806.3 314 L807.8 316.8 L809.3 319.6 L810.8 322.3 L812.3 324.8 L813.8 327.1 L815.3 329.3 L816.8 331.5 L818.3 333.5 L819.8 335.2 L821.3 336.6 L822.8 337.5 L824.3 338.4 L825.8 339.1 L827.3 339.7 L828.8 340 L830.3 340 L831.8 339.7 L833.3 339.2 L834.8 338.6 L836.3 338 L837.8 337.4 L839.3 336.4 L840.8 335.3 L842.3 334.3 L843.8 333.5 L845.3 333.1 L846.8 332.8 L848.3 332.5 L849.8 332.4 L851.3 332.3 L852.8 332.6 L854.3 333.3 L855.8 334.2 L857.3 335.2 L858.8 336.2 L860.3 337.2 L861.8 338.5 L863.3 339.8 L864.8 340.8 L866.3 341.5 L867.8 342.2 L869.3 342.8 L870.8 343.2 L872.3 343.3 L873.8 342.9 L875.3 342.1 L876.8 341 L878.3 339.8 L879.8 338.5 L881.3 336.6 L882.8 334.5 L884.3 332.4 L885.8 330.6 L887.3 328.9 L888.8 327.2 L890.3 325.6 L891.8 324.2 L893.3 323 L894.8 322.1 L896.3 321.3 L897.8 320.5 L899.3 319.9 L900.8 319.5 L902.3 319.4 L903.8 319.5 L905.3 319.7 L906.8 320 L908.3 320.4 L909.8 320.8 L911.3 321.2 L912.8 321.7 L914.3 322.3 L915.8 322.9 L917.3 323.6 L918.8 324.3 L920.3 325.2 L921.8 326.1 L923.3 327.1 L924.8 328.2 L926.3 329.3 L926.4 329.4" stroke="#ff0000"/>
</g>
<g font-size="38.5">
<text x="104.4" y="34.2" font-size="38.5" text-anchor="end">20</text>
<text x="104.4" y="108.5" font-size="38.5" text-anchor="end">15</text>
<text x="104.4" y="182.9" font-size="38.5" text-anchor="end">10</text>
<text x="104.4" y="257.2" font-size="38.5" text-anchor="end">5</text>
<text x="104.4" y="331.6" font-size="38.5" text-anchor="end">0</text>
<text x="104.4" y="405.9" font-size="38.5" text-anchor="end">-5</text>
<text x="104.4" y="480.3" font-size="38.5" text-anchor="end">-10</text>
<text x="104.4" y="554.6" font-size="38.5" text-anchor="end">-15</text>
<text x="116.3" y="613.4" font-size="38.5" text-anchor="middle">5</text>
<text x="197.3" y="613.4" font-size="38.5" text-anchor="middle">6</text>
<text x="278.3" y="613.4" font-size="38.5" text-anchor="middle">7</text>
<text x="359.4" y="613.4" font-size="38.5" text-anchor="middle">8</text>
<text x="440.4" y="613.4" font-size="38.5" text-anchor="middle">9</text>
<text x="521.4" y="613.4" font-size="38.5" text-anchor="middle">10</text>
<text x="602.4" y="613.4" font-size="38.5" text-anchor="middle">11</text>
<text x="683.4" y="613.4" font-size="38.5" text-anchor="middle">12</text>
<text x="764.5" y="613.4" font-size="38.5" text-anchor="middle">13</text>
<text x="845.5" y="613.4" font-size="38.5" text-anchor="middle">14</text>
<text x="926.5" y="613.4" font-size="38.5" text-anchor="middle">15</text>
</g>
<text x="521.6" y="651.9" font-size="38.4" text-anchor="middle" textLength="272.5" lengthAdjust="spacingAndGlyphs">Time Delay (ps)</text>
<text transform="translate(42.3 306.2) rotate(-90)" font-size="38.6" text-anchor="middle" textLength="338.5" lengthAdjust="spacingAndGlyphs">THz Amplitude (nA)</text>
<text x="474.2" y="710.4" font-size="38" text-anchor="middle" textLength="53" lengthAdjust="spacingAndGlyphs" font-weight="bold" style="fill:#2b2b2b">(a)</text>
</g>
<g id="plot-b">
<clipPath id="clipB"><rect x="107.7" y="739.7" width="830.3" height="556.6"/></clipPath>
<g stroke="#000" fill="none" stroke-linecap="round" stroke-linejoin="round">
<rect x="107.7" y="739.7" width="830.3" height="556.6" stroke-width="5.6"/>
<path d="M107.7 1261.4 h9.8 M107.7 1226.5 h4.9 M107.7 1191.7 h9.8 M107.7 1156.9 h4.9 M107.7 1122 h9.8 M107.7 1087.2 h4.9 M107.7 1052.3 h9.8 M107.7 1017.5 h4.9 M107.7 982.6 h9.8 M107.7 947.8 h4.9 M107.7 912.9 h9.8 M107.7 878.1 h4.9 M107.7 843.2 h9.8 M107.7 808.4 h4.9 M107.7 773.5 h9.8 M176.9 1296.3 v-5 M246.1 1296.3 v-9.5 M315.3 1296.3 v-5 M384.5 1296.3 v-9.5 M453.6 1296.3 v-5 M522.8 1296.3 v-9.5 M592 1296.3 v-5 M661.2 1296.3 v-9.5 M730.4 1296.3 v-5 M799.6 1296.3 v-9.5 M868.8 1296.3 v-5" stroke-width="5"/>
</g>
<g fill="none" stroke-width="4" stroke-linejoin="round" stroke-linecap="round" clip-path="url(#clipB)">
<path d="M107 1015 L111.1 1005 L115.1 950 L119.2 880 L123.3 848 L127.3 830 L131.4 815 L135.5 800 L139.6 785 L143.6 771.4 L147.7 776.4 L151.8 777.7 L155.8 789 L159.9 800.2 L164 797.1 L168.1 797.7 L172.1 805.9 L176.2 799 L180.3 798.4 L184.3 833.5 L188.4 812.2 L192.5 836 L196.5 832.3 L200.6 837.9 L204.7 850.5 L208.8 846.7 L212.8 860.5 L216.9 848.6 L221 857.9 L225 867.9 L229.1 877.3 L233.2 878.6 L237.2 880.5 L241.3 879.2 L245.4 891.8 L249.5 881.7 L253.5 889.2 L257.6 911.8 L261.7 940.1 L265.7 901.8 L269.8 945.7 L273.9 908.1 L277.9 916.9 L282 898.7 L286.1 899.3 L290.1 910 L294.2 908.1 L298.3 910.6 L302.4 948.2 L306.4 916.9 L310.5 925.6 L314.6 919.4 L318.6 928.8 L322.7 942 L326.8 938.8 L330.9 960.3 L334.9 967.9 L339 1073.9 L343.1 1005.5 L347.1 1025 L351.2 984.2 L355.3 998 L359.3 984.2 L363.4 969.1 L367.5 1050.5 L371.6 993 L375.6 1020.6 L379.7 990.5 L383.8 997.4 L387.8 1013 L391.9 1029.4 L396 1020.6 L400 1010.5 L404.1 1016.8 L408.2 1125 L412.2 1098 L416.3 1117.8 L420.4 1082 L424.5 1066 L428.5 1054.4 L432.6 1097 L436.7 1082 L440.7 1100 L444.8 1080.3 L448.9 1095.4 L453 1070.3 L457 1096.6 L461.1 1084.1 L465.2 1092.9 L469.2 1113 L473.3 1144.3 L477.4 1266.9 L481.4 1135 L484 1140.1 L488.2 1125 L492.8 1145.1 L497.3 1135.1 L501.6 1157.7 L505.3 1135.1 L509.3 1150.1 L513.4 1130 L517.4 1142.6 L521.4 1127.5 L525.4 1125 L529.2 1132.6 L532.9 1135.1 L536.7 1137.6 L540.5 1238 L545 1141.6 L548.8 1160.4 L552.6 1185.5 L557.6 1240 L561.6 1185.5 L565.7 1139.1 L570.1 1160.4 L573.9 1185.5 L577.7 1213.1 L581.4 1185.5 L585.2 1152.9 L590.2 1203.1 L594 1152.9 L597.7 1196.8 L602.1 1173 L605.9 1156.6 L610.3 1160.4 L614.3 1185.5 L618.4 1204.3 L622.5 1179.2 L626.6 1155.4 L630.4 1173 L634.1 1185.5 L638.5 1144.1 L642.9 1173 L646.7 1198.1 L650.5 1195.6 L654.8 1186.8 L658 1235.7 L662.2 1182.8 L666 1235.5 L670 1192.8 L676.3 1142.6 L680.1 1170.2 L685.1 1202.9 L688.9 1185.3 L692.6 1175.2 L697.7 1190.3 L702.7 1230.5 L707.2 1195.3 L711.5 1175.2 L716.5 1225.4 L722.8 1310.8 L727.8 1212.9 L732.8 1220.4 L737.8 1151.4 L741.6 1152.6 L745.4 1158.9 L749.1 1162.7 L752.9 1170.2 L756.7 1160.2 L760.4 1152.6 L764.2 1165.2 L768 1180.3 L774.2 1220.4 L778 1202.9 L780.5 1192.8 L785.5 1202.9 L790.6 1185.3 L795.6 1202.9 L800.6 1182.8 L805.1 1170.2 L809.4 1145.1 L813.2 1180.3 L816.9 1170.2 L820.7 1152.6 L824.4 1165.2 L827 1170.2 L833.2 1202.9 L837 1190.3 L840.8 1192.8 L845.8 1182.8 L850.8 1195.3 L854.6 1180.3 L858.3 1187.8 L862.1 1177.7 L866.4 1165.2 L869.6 1210.4 L875.9 1187.8 L881.2 1184 L884 1189.7 L886.9 1172.6 L890.4 1209.6 L894 1254.4 L898 1195.3 L901.8 1151.3 L905.3 1179.7 L909.6 1166.9 L913.9 1155.5 L918.2 1221 L922.4 1189.7 L926.7 1211 L932.4 1181.1 L935.9 1145.6" stroke="#000000"/>
<path d="M107 948 L111.1 1038 L115.1 852 L119.2 827 L123.3 825.4 L127.3 832.9 L131.4 827.9 L135.5 815.3 L139.6 799 L143.6 777.7 L147.7 771.4 L151.8 769.5 L155.8 767.4 L159.9 766.7 L164 770.8 L168.1 776.4 L172.1 778.3 L176.2 777.4 L180.3 780.2 L184.3 808.4 L188.4 773.9 L192.5 777.7 L196.5 783.3 L200.6 788.3 L204.7 795.2 L208.8 799.6 L212.8 807.8 L216.9 800.9 L221 807.7 L225 806.4 L229.1 807 L233.2 808.9 L237.2 813.9 L241.3 822.7 L245.4 830.2 L249.5 824 L253.5 825.9 L257.6 847.8 L261.7 865.4 L265.7 845.9 L269.8 880.5 L273.9 856.6 L277.9 866.6 L282 846.6 L286.1 850.3 L290.1 857.9 L294.2 856.6 L298.3 861.6 L302.4 914.3 L306.4 868.5 L310.5 876.7 L314.6 874.2 L318.6 879.2 L322.7 888.6 L326.8 892.4 L330.9 913.9 L334.9 913.9 L339 1005.5 L343.1 962.2 L347.1 967.9 L351.2 924.6 L355.3 954.1 L359.3 940.2 L363.4 925.2 L367.5 961.6 L371.6 942.8 L375.6 960.3 L379.7 943.4 L383.8 955.3 L387.8 966.6 L391.9 986.7 L396 982.9 L400 967.2 L404.1 980.4 L408.2 1112 L412.2 1042 L416.3 1057.6 L420.4 1039.4 L424.5 1021.8 L428.5 1004.3 L432.6 1041.9 L436.7 1046.6 L440.7 1110 L444.8 1024.5 L448.9 1087.9 L453 1056.5 L457 1033.9 L461.1 1045.2 L465.2 1057.7 L469.2 1081.6 L473.3 1150.6 L477.4 1113 L481.4 1075.3 L485.5 1057.1 L489.6 1113 L493.7 1150 L497.7 1158.2 L501.8 1097.9 L505.9 1120.5 L509.9 1150.6 L514 1131.8 L516.6 1192.8 L520.9 1132.6 L525.4 1155.1 L529.2 1170.2 L532.9 1259.3 L537.5 1195.3 L541 1157.7 L544.4 1137.2 L548.8 1136.6 L552.6 1155.4 L556.9 1185.5 L561.3 1213.1 L565.7 1194.9 L569.9 1264.3 L573.6 1250.8 L577.7 1239.5 L581.4 1208.1 L586.4 1160.4 L590.2 1128.4 L594 1160.4 L597.7 1185.5 L602.1 1204.3 L605.9 1221.9 L610.3 1198.1 L614.1 1180.5 L618.4 1173 L622.8 1218.2 L626.6 1199.3 L630.4 1226.9 L635.4 1198.1 L639.2 1193 L642.9 1210.6 L646.7 1160.4 L650.5 1149.7 L654.8 1154.1 L659.2 1142.8 L661 1141.3 L666 1133.8 L672.6 1152.6 L678.8 1162.7 L685.1 1195.3 L690.6 1235.5 L695.7 1156.4 L701.4 1192.8 L706.4 1215.4 L711.5 1245.5 L715.2 1225.4 L719 1270.6 L724 1161.4 L727.8 1190.3 L732.8 1146.4 L737.8 1185.3 L744.1 1162.7 L749.1 1202.9 L752.9 1222.9 L756.7 1230.5 L760.4 1270.6 L764.2 1260.6 L768 1204.1 L773 1278.2 L776 1241.8 L780.5 1260.6 L784.3 1266.9 L790.6 1197.8 L795.6 1192.8 L801.1 1147.6 L805.6 1220.4 L809.4 1288.2 L814.4 1185.3 L820.7 1243 L825.7 1202.9 L832 1228 L837 1283.2 L840.8 1260.6 L844.5 1222.9 L849.6 1165.2 L854.6 1205.4 L860.9 1219.2 L864.6 1202.9 L868.4 1195.3 L872.2 1220.4 L875.9 1212.9 L881.9 1208.2 L885.7 1277.9 L889.7 1202.5 L892.5 1209.6 L895.4 1198.2 L898.2 1215.3 L902.5 1172.6 L905.3 1189.7 L908.2 1181.1 L912.5 1195.3 L918.2 1201 L922.4 1189.7 L926.7 1152.7 L931 1206.7 L933.8 1201 L935.9 1152.7" stroke="#008000"/>
<path d="M107 913 L111.1 970 L115.1 900 L119.2 865 L123.3 826.6 L127.3 817.2 L131.4 798.4 L135.5 785.8 L139.6 773.9 L143.6 763.8 L147.7 755.7 L151.8 758.2 L155.8 758.6 L159.9 761.3 L164 766.7 L168.1 768.2 L172.1 767.9 L176.2 766.4 L180.3 767.4 L184.3 793.3 L188.4 765.7 L192.5 777.7 L196.5 782.7 L200.6 789.6 L204.7 796.5 L208.8 800.9 L212.8 810.3 L216.9 794 L221 799.5 L225 794.5 L229.1 796.4 L233.2 798.9 L237.2 804.5 L241.3 816.4 L245.4 828.4 L249.5 825.9 L253.5 830.2 L257.6 845.3 L261.7 869.2 L265.7 850.3 L269.8 883 L273.9 868.5 L277.9 876.7 L282 867.9 L286.1 874.2 L290.1 886.1 L294.2 882.3 L298.3 886.7 L302.4 950.7 L306.4 893.6 L310.5 901.8 L314.6 899.9 L318.6 906.8 L322.7 908.7 L326.8 914.3 L330.9 939 L334.9 940.2 L339 1005.5 L343.1 977.9 L347.1 984.2 L351.2 938.4 L355.3 962.8 L359.3 961.6 L363.4 944 L367.5 993 L371.6 964.1 L375.6 991.7 L379.7 960.3 L383.8 971.6 L387.8 985.4 L391.9 1000.5 L396 1001.8 L400 985.4 L404.1 1000.5 L408.2 1182.5 L412.2 1062.6 L416.3 1060.7 L420.4 1070 L424.5 1034.4 L428.5 1015.6 L432.6 1045 L436.7 1073 L440.7 1106.7 L444.8 1033.9 L448.9 1100.4 L453 1060.2 L457 1045.2 L461.1 1051.5 L465.2 1060.2 L469.2 1077.8 L473.3 1138.1 L477.4 1107.3 L481.4 1115.5 L485.5 1077.8 L489.6 1138.1 L492.3 1243 L496.8 1102.4 L501.1 1147.6 L505.1 1150.6 L508.6 1197.8 L512.9 1172.7 L516.6 1176.5 L520.9 1243 L525.4 1195.3 L530.4 1140.1 L534.2 1170.2 L537.5 1200.3 L540.5 1172.7 L544.4 1240 L548.8 1149.7 L552.6 1160.4 L556.9 1170.5 L561.3 1160.4 L565.7 1167.9 L569.5 1162.9 L573.9 1159.2 L577.7 1125.9 L582.4 1240.7 L589 1167.9 L594.6 1220.7 L598 1208.1 L601.5 1198.1 L605.9 1213.1 L610.3 1185.5 L614.1 1223.2 L618.4 1234.5 L622.8 1191.8 L627.2 1169.2 L631.6 1185.5 L635.4 1206.9 L639.2 1159.2 L642.9 1185.5 L646.7 1155.4 L650.5 1137.8 L654.8 1132.8 L658 1166.7 L663.5 1152.6 L667.3 1135.1 L671.3 1187.8 L675.6 1135.1 L680.1 1143.9 L685.1 1138.8 L690.1 1163.9 L695.1 1175.2 L700.2 1197.8 L703.2 1174 L707.7 1240.5 L711.5 1310.8 L716.5 1205.4 L720.3 1215.4 L725.3 1180.3 L729 1182.8 L732.8 1171.5 L736.6 1195.3 L740.3 1219.2 L744.1 1195.3 L748.4 1230.5 L752.9 1171.5 L756.7 1202.9 L760.4 1234.2 L765.4 1180.3 L770.5 1147.6 L776 1202.9 L780.5 1156.4 L785.5 1240.5 L791.8 1161.4 L796.8 1310.8 L801.9 1172.7 L808.1 1171.5 L813.2 1166.4 L819.4 1174 L824.4 1205.4 L829.5 1150.1 L834.5 1260.6 L840.8 1163.9 L847 1185.3 L853.3 1187.8 L858.3 1176.5 L862.9 1310.8 L869.6 1172.7 L873.4 1187.8 L878.4 1166.4 L882.6 1172.6 L886.1 1174 L889.7 1175.4 L894 1139.9 L897.5 1154.1 L901.1 1166.9 L906.1 1144.1 L909.6 1164.1 L913.9 1186.8 L918.2 1172.6 L922.4 1159.8 L926 1178.3 L928.1 1189.7 L932.4 1181.1 L935.2 1159.8 L936.9 1238" stroke="#ff0000"/>
<path d="M107 1020.5 L111.1 1010.5 L115.1 962.8 L119.2 891 L123.3 856 L127.3 838.5 L131.4 827.9 L135.5 815.9 L139.6 797.7 L143.6 781.4 L147.7 777 L151.8 776.4 L155.8 773.9 L159.9 783.3 L164 794.6 L168.1 791.5 L172.1 794.6 L176.2 787.7 L180.3 780.2 L184.3 804.6 L188.4 774.5 L192.5 783.9 L196.5 792.7 L200.6 796.5 L204.7 805.9 L208.8 807.2 L212.8 818.4 L216.9 806.5 L221 810.2 L225 813.3 L229.1 813.9 L233.2 820.2 L237.2 822.7 L241.3 829 L245.4 842.2 L249.5 835.3 L253.5 840.3 L257.6 867.9 L261.7 895.5 L265.7 865.4 L269.8 907.4 L273.9 874.2 L277.9 887.4 L282 868.5 L286.1 872.9 L290.1 881.7 L294.2 883.6 L298.3 886.1 L302.4 944.5 L306.4 898 L310.5 903.7 L314.6 906.2 L318.6 910.6 L322.7 921.9 L326.8 920 L330.9 947.8 L334.9 944 L339 1039.4 L343.1 997.4 L347.1 1004.3 L351.2 961.6 L355.3 984.2 L359.3 979.2 L363.4 965.4 L367.5 1049.4 L371.6 990.5 L375.6 1020 L379.7 986.7 L383.8 995.5 L387.8 1014.3 L391.9 1031.9 L396 1024.3 L400 1016.8 L404.1 1015.6 L408.2 1121.6 L412.2 1092.7 L416.3 1203.8 L420.4 1085.2 L424.5 1075 L428.5 1063.2 L432.6 1085 L436.7 1107 L440.7 1166.8 L444.8 1087.9 L448.9 1138.1 L453 1099.2 L457 1120.5 L461.1 1098.5 L465.2 1155.6 L469.2 1104.2 L473.3 1187.8 L477.4 1141.8 L481.4 1123 L485.5 1138.1 L489.6 1156.3 L493.7 1116.7 L497.7 1110.5 L501.8 1104.2 L505.9 1149.4 L509.9 1119.2 L514 1170.7 L518.1 1138.1 L522.1 1118.6 L526.2 1168.2 L530.3 1131.8 L534.4 1100.4 L538.4 1128.7 L542.5 1113 L546.6 1103.6 L550.6 1131.8 L552.6 1139.1 L556.9 1107.1 L561.3 1105.2 L565.7 1130.3 L569.5 1103.9 L573.3 1103.9 L577.7 1115.2 L580.2 1121.5 L583.3 1124.6 L586.7 1124.6 L589.6 1150.4 L593.3 1190.5 L598 1149.1 L602.1 1173 L606.5 1199.3 L610.3 1173 L614.3 1147.2 L618.4 1225.7 L622.5 1156.6 L626.6 1198.1 L630.4 1201.8 L635.4 1211.9 L639.2 1212.5 L642.9 1219.4 L646.7 1161.7 L650.5 1164.8 L654.8 1180.5 L659.2 1155.4 L663.5 1145.1 L667.3 1150.1 L670.5 1140.1 L675.1 1137.6 L678.8 1147.6 L682.6 1162.7 L686.4 1136.3 L690.1 1140.1 L693.9 1145.1 L697.7 1140.1 L701.4 1136.3 L705.2 1135.1 L711.5 1146.4 L716.5 1123.8 L720.3 1132.6 L724 1143.9 L727.8 1132.6 L731.6 1125 L735.8 1133.8 L740.3 1142.6 L744.1 1131.3 L748.4 1147.6 L752.9 1166.4 L756.7 1143.9 L760.4 1157.7 L764.2 1169 L770.5 1148.9 L776 1215.4 L780.5 1195.3 L784.5 1225.4 L788.5 1256.8 L792.6 1225.4 L796.8 1197.8 L801.1 1215.4 L805.6 1235.5 L810.6 1185.3 L813.7 1220.4 L816.9 1249.3 L820.7 1205.4 L824.4 1166.4 L828.2 1195.3 L833.2 1185.3 L837 1187.8 L840.8 1182.8 L845.8 1248 L850.8 1157.7 L854.6 1167.7 L858.3 1177.7 L862.1 1180.3 L865.9 1169 L869.6 1192.8 L873.4 1215.4 L878.4 1182.8 L882.6 1208.2 L886.1 1201 L889.7 1240.9 L894 1189.7 L898.2 1172.6 L902.5 1244.4 L906.8 1185.4 L911 1189.7 L913.9 1250.1 L918.9 1255.1 L923.1 1171.2 L927.4 1195.3 L932.4 1166.9 L935.9 1135.6" stroke="#0000ff"/>
</g>
<path d="M128.9 1191.7 H934" stroke="#000" stroke-width="4.6" stroke-linecap="round" stroke-dasharray="2.4 19.62" fill="none"/>
<g font-size="23.7">
<path d="M688.3 1025.4 H743.8" stroke="#000000" stroke-width="3.9" fill="none"/>
<text x="749.2" y="1032.7">SI-GaAs</text>
<path d="M688.3 1054.8 H743.8" stroke="#0000ff" stroke-width="3.9" fill="none"/>
<text x="749.2" y="1061.4">LT-GaAs</text>
<path d="M688.3 1083.9 H743.8" stroke="#008000" stroke-width="3.9" fill="none"/>
<text x="749.2" y="1090.1">MDH (Top)</text>
<path d="M688.3 1113 H743.8" stroke="#ff0000" stroke-width="3.9" fill="none"/>
<text x="749.2" y="1118.8">MDH (Recessed)</text>
</g>
<g font-size="42.5">
<text x="95.4" y="786.2" font-size="42.5" text-anchor="end">60</text>
<text x="95.4" y="855.9" font-size="42.5" text-anchor="end">50</text>
<text x="95.4" y="925.6" font-size="42.5" text-anchor="end">40</text>
<text x="95.4" y="995.3" font-size="42.5" text-anchor="end">30</text>
<text x="95.4" y="1065" font-size="42.5" text-anchor="end">20</text>
<text x="95.4" y="1134.7" font-size="42.5" text-anchor="end">10</text>
<text x="95.4" y="1204.4" font-size="42.5" text-anchor="end">0</text>
<text x="95.4" y="1274.1" font-size="42.5" text-anchor="end">-10</text>
<text x="107.7" y="1340.6" font-size="42.5" text-anchor="middle">0</text>
<text x="246.1" y="1340.6" font-size="42.5" text-anchor="middle">1</text>
<text x="384.5" y="1340.6" font-size="42.5" text-anchor="middle">2</text>
<text x="522.8" y="1340.6" font-size="42.5" text-anchor="middle">3</text>
<text x="661.2" y="1340.6" font-size="42.5" text-anchor="middle">4</text>
<text x="799.6" y="1340.6" font-size="42.5" text-anchor="middle">5</text>
<text x="938" y="1340.6" font-size="42.5" text-anchor="middle">6</text>
</g>
<text x="524" y="1375.1" font-size="42.3" text-anchor="middle" textLength="319.5" lengthAdjust="spacingAndGlyphs">Frequency (THz)</text>
<text transform="translate(36.1 1046.1) rotate(-90)" font-size="43.2" text-anchor="middle" textLength="394" lengthAdjust="spacingAndGlyphs">Dynamic Range (dB)</text>
<text x="473.2" y="1429.9" font-size="40" text-anchor="middle" textLength="56.5" lengthAdjust="spacingAndGlyphs" font-weight="bold" style="fill:#2b2b2b">(b)</text>
<g id="inset">
<rect x="603.2" y="747.5" width="317.6" height="216.8" fill="#fff" stroke="none"/>
<g fill="none" stroke-width="1.8" stroke-linejoin="round">
<path d="M603.2 960.7 L612.5 960.7 L621.9 960.7 L631.2 960.5 L640.6 960.3 L649.9 959.9 L659.2 959.1 L668.6 957.9 L677.9 955.6 L687.3 954.2 L696.6 955 L706 955.6 L715.3 956.6 L724.6 958.4 L734 958.1 L743.3 958.1 L752.7 958.8 L762 958.1 L771.3 958.4 L780.7 959.9 L790 959.1 L799.4 959.8 L808.7 960.1 L818 960.2 L827.4 960.3 L836.7 960.3 L846.1 960.4 L855.4 960.3 L864.8 960.3 L874.1 960.4 L883.4 960.4 L892.8 960.4 L902.1 960.5 L911.5 960.5 L920.8 960.5" stroke="#000000"/>
<path d="M603.2 960.7 L612.5 960.3 L621.9 959.5 L631.2 958.1 L640.6 957.5 L649.9 958.4 L659.2 957 L668.6 955 L677.9 952.8 L687.3 948.1 L696.6 939.6 L706 937.7 L715.3 936.4 L724.6 935.6 L734 937.7 L743.3 942 L752.7 943.7 L762 943.3 L771.3 944.5 L780.7 954.6 L790 942.4 L799.4 945.3 L808.7 945.7 L818 948.5 L827.4 951 L836.7 952.8 L846.1 956.6 L855.4 953.4 L864.8 954.6 L874.1 954.2 L883.4 954.2 L892.8 955 L902.1 956 L911.5 957 L920.8 958.1" stroke="#008000"/>
<path d="M603.2 960.7 L612.5 960.7 L621.9 960.3 L631.2 958.3 L640.6 955.4 L649.9 951 L659.2 947.3 L668.6 939.6 L677.9 921 L687.3 897.8 L696.6 890.1 L706 887.3 L715.3 883.2 L724.6 905.5 L734 924.6 L743.3 917.3 L752.7 921.8 L762 912.8 L771.3 897.8 L780.7 933.1 L790 884 L799.4 901.1 L808.7 916.9 L818 924.2 L827.4 934.3 L836.7 935.3 L846.1 943.4 L855.4 934.9 L864.8 936.8 L874.1 940 L883.4 940 L892.8 944.7 L902.1 945.7 L911.5 948.5 L920.8 953.2" stroke="#0000ff"/>
<path d="M603.2 959.1 L612.5 960.7 L621.9 959.5 L631.2 953.4 L640.6 942 L649.9 935.1 L659.2 916.9 L668.6 895 L677.9 862.5 L687.3 815.5 L696.6 765.6 L706 779.4 L715.3 779 L724.6 790.8 L734 825.2 L743.3 828.5 L752.7 829.3 L762 821.6 L771.3 825.2 L780.7 904.7 L790 820.8 L799.4 874.1 L808.7 880.4 L818 898.2 L827.4 911.4 L836.7 915.7 L846.1 930.7 L855.4 905.1 L864.8 914.2 L874.1 906.8 L883.4 909.2 L892.8 913.2 L902.1 921.2 L911.5 933.9 L920.8 943" stroke="#ff0000"/>
</g>
<g stroke="#000" fill="none" stroke-linecap="round" stroke-linejoin="round">
<rect x="603.2" y="747.5" width="317.6" height="216.8" stroke-width="3.2"/>
<path d="M603.2 960.7 h3.6 M603.2 940.4 h1.7 M603.2 920.1 h3.6 M603.2 899.9 h1.7 M603.2 879.6 h3.6 M603.2 859.3 h1.7 M603.2 839 h3.6 M603.2 818.7 h1.7 M603.2 798.5 h3.6 M603.2 778.2 h1.7 M603.2 757.9 h3.6 M682.6 964.3 v-1.8 M762 964.3 v-4.2 M841.4 964.3 v-1.8" stroke-width="2.4"/>
</g>
<g font-size="21.3">
<text x="597.5" y="765.5" font-size="21.3" text-anchor="end">0.5</text>
<text x="597.5" y="806.1" font-size="21.3" text-anchor="end">0.4</text>
<text x="597.5" y="846.6" font-size="21.3" text-anchor="end">0.3</text>
<text x="597.5" y="887.2" font-size="21.3" text-anchor="end">0.2</text>
<text x="597.5" y="927.7" font-size="21.3" text-anchor="end">0.1</text>
<text x="597.5" y="968.3" font-size="21.3" text-anchor="end">0.0</text>
<text x="603.2" y="986.7" font-size="21.3" text-anchor="middle">0.0</text>
<text x="762" y="986.7" font-size="21.3" text-anchor="middle">0.5</text>
<text x="920.8" y="986.7" font-size="21.3" text-anchor="middle">1.0</text>
</g>
<text x="761.4" y="1003.9" font-size="21.3" text-anchor="middle" textLength="161.6" lengthAdjust="spacingAndGlyphs">Frequency (THz)</text>
<text transform="translate(562.7 872.5) rotate(-90)" font-size="20.6" text-anchor="middle">FFT Power (nA<tspan font-size="13.5" dy="-11.5">2</tspan><tspan dy="11.5">)</tspan></text>
</g>
</g>
</svg>
</body>
</html>
